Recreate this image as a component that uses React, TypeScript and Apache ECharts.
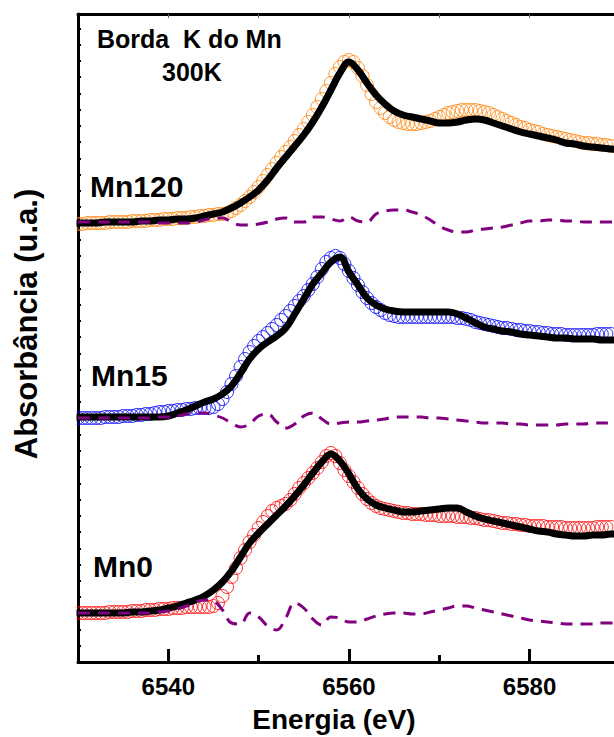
import React, { useEffect, useRef } from "react";
import * as echarts from "echarts";

// Energies (eV) of the measured points (0.5 eV sampling)
const energyData = [
  6530, 6530.5, 6531, 6531.5, 6532, 6532.5, 6533, 6533.5, 6534, 6534.5, 6535, 6535.5, 6536, 6536.5, 6537, 6537.5, 6538, 6538.5, 6539, 6539.5,
  6540, 6540.5, 6541, 6541.5, 6542, 6542.5, 6543, 6543.5, 6544, 6544.5, 6545, 6545.5, 6546, 6546.5, 6547, 6547.5, 6548, 6548.5, 6549, 6549.5,
  6550, 6550.5, 6551, 6551.5, 6552, 6552.5, 6553, 6553.5, 6554, 6554.5, 6555, 6555.5, 6556, 6556.5, 6557, 6557.5, 6558, 6558.5, 6559, 6559.5,
  6560, 6560.5, 6561, 6561.5, 6562, 6562.5, 6563, 6563.5, 6564, 6564.5, 6565, 6565.5, 6566, 6566.5, 6567, 6567.5, 6568, 6568.5, 6569, 6569.5,
  6570, 6570.5, 6571, 6571.5, 6572, 6572.5, 6573, 6573.5, 6574, 6574.5, 6575, 6575.5, 6576, 6576.5, 6577, 6577.5, 6578, 6578.5, 6579, 6579.5,
  6580, 6580.5, 6581, 6581.5, 6582, 6582.5, 6583, 6583.5, 6584, 6584.5, 6585, 6585.5, 6586, 6586.5, 6587, 6587.5, 6588, 6588.5, 6589, 6589.5,
];

// Energies (eV) of the fit / difference curves (1 eV sampling)
const energyFit = [
  6530, 6531, 6532, 6533, 6534, 6535, 6536, 6537, 6538, 6539,
  6540, 6541, 6542, 6543, 6544, 6545, 6546, 6547, 6548, 6549,
  6550, 6551, 6552, 6553, 6554, 6555, 6556, 6557, 6558, 6559,
  6560, 6561, 6562, 6563, 6564, 6565, 6566, 6567, 6568, 6569,
  6570, 6571, 6572, 6573, 6574, 6575, 6576, 6577, 6578, 6579,
  6580, 6581, 6582, 6583, 6584, 6585, 6586, 6587, 6588, 6589,
  6590,
];

// ---- Mn120 (offset absorbance, u.a.) ----
const mn120Data = [
  4.38, 4.38, 4.39, 4.39, 4.39, 4.39, 4.39, 4.40, 4.40, 4.40, 4.40, 4.40, 4.41, 4.41, 4.41, 4.41, 4.42, 4.42, 4.42, 4.43,
  4.43, 4.43, 4.44, 4.44, 4.44, 4.45, 4.45, 4.46, 4.46, 4.47, 4.47, 4.48, 4.48, 4.49, 4.51, 4.54, 4.57, 4.61, 4.65, 4.70,
  4.75, 4.81, 4.87, 4.93, 4.99, 5.05, 5.10, 5.15, 5.21, 5.27, 5.33, 5.40, 5.47, 5.55, 5.63, 5.71, 5.79, 5.88, 5.95, 6.00,
  6.02, 6.00, 5.94, 5.86, 5.77, 5.68, 5.60, 5.54, 5.49, 5.45, 5.42, 5.40, 5.39, 5.38, 5.38, 5.38, 5.39, 5.40, 5.41, 5.43,
  5.45, 5.47, 5.49, 5.50, 5.51, 5.52, 5.52, 5.52, 5.52, 5.51, 5.50, 5.49, 5.47, 5.45, 5.43, 5.41, 5.39, 5.37, 5.35, 5.34,
  5.32, 5.31, 5.30, 5.28, 5.27, 5.26, 5.25, 5.24, 5.23, 5.22, 5.21, 5.20, 5.19, 5.19, 5.18, 5.18, 5.17, 5.17, 5.16, 5.16,
];
const mn120Fit = [
  4.39, 4.39, 4.39, 4.40, 4.40, 4.40, 4.40, 4.41, 4.41, 4.42,
  4.42, 4.43, 4.43, 4.44, 4.46, 4.48, 4.50, 4.54, 4.59, 4.65,
  4.72, 4.82, 4.94, 5.05, 5.16, 5.27, 5.40, 5.55, 5.72, 5.89,
  6.00, 5.92, 5.79, 5.67, 5.58, 5.51, 5.47, 5.45, 5.43, 5.41,
  5.39, 5.39, 5.40, 5.42, 5.43, 5.42, 5.39, 5.36, 5.33, 5.30,
  5.28, 5.26, 5.24, 5.22, 5.19, 5.18, 5.16, 5.15, 5.14, 5.13,
  5.12,
];
const mn120Diff = [
  4.40, 4.40, 4.40, 4.40, 4.40, 4.40, 4.40, 4.40, 4.40, 4.39,
  4.39, 4.39, 4.39, 4.40, 4.42, 4.44, 4.44, 4.40, 4.37, 4.37,
  4.38, 4.40, 4.43, 4.44, 4.40, 4.40, 4.45, 4.45, 4.43, 4.41,
  4.45, 4.41, 4.40, 4.48, 4.51, 4.52, 4.52, 4.50, 4.47, 4.42,
  4.36, 4.32, 4.30, 4.30, 4.32, 4.33, 4.34, 4.35, 4.37, 4.39,
  4.41, 4.41, 4.42, 4.42, 4.41, 4.41, 4.40, 4.40, 4.40, 4.40,
  4.40,
];

// ---- Mn15 ----
const mn15Data = [
  2.44, 2.44, 2.44, 2.44, 2.44, 2.44, 2.45, 2.45, 2.45, 2.45, 2.46, 2.46, 2.46, 2.47, 2.47, 2.48, 2.48, 2.49, 2.50, 2.50,
  2.51, 2.51, 2.52, 2.52, 2.53, 2.53, 2.54, 2.54, 2.54, 2.54, 2.55, 2.58, 2.63, 2.70, 2.78, 2.86, 2.95, 3.03, 3.10, 3.16,
  3.21, 3.25, 3.29, 3.33, 3.37, 3.42, 3.46, 3.51, 3.56, 3.61, 3.66, 3.72, 3.78, 3.85, 3.93, 4.00, 4.04, 4.06, 4.04, 3.98,
  3.91, 3.84, 3.77, 3.70, 3.64, 3.59, 3.55, 3.52, 3.49, 3.47, 3.46, 3.45, 3.45, 3.45, 3.45, 3.45, 3.45, 3.45, 3.45, 3.45,
  3.45, 3.45, 3.45, 3.45, 3.44, 3.44, 3.43, 3.42, 3.40, 3.39, 3.38, 3.37, 3.36, 3.35, 3.34, 3.34, 3.33, 3.32, 3.32, 3.31,
  3.31, 3.30, 3.30, 3.29, 3.29, 3.28, 3.28, 3.28, 3.27, 3.27, 3.27, 3.27, 3.27, 3.27, 3.27, 3.28, 3.28, 3.28, 3.28, 3.29,
];
const mn15Fit = [
  2.45, 2.45, 2.45, 2.45, 2.45, 2.45, 2.45, 2.45, 2.45, 2.45,
  2.46, 2.49, 2.52, 2.56, 2.60, 2.63, 2.68, 2.76, 2.89, 3.03,
  3.13, 3.20, 3.26, 3.34, 3.48, 3.63, 3.78, 3.89, 4.00, 4.05,
  3.90, 3.77, 3.64, 3.57, 3.53, 3.51, 3.50, 3.50, 3.50, 3.50,
  3.50, 3.50, 3.48, 3.44, 3.39, 3.35, 3.33, 3.31, 3.30, 3.28,
  3.27, 3.26, 3.25, 3.24, 3.24, 3.23, 3.23, 3.23, 3.22, 3.22,
  3.22,
];
const mn15Diff = [
  2.44, 2.44, 2.44, 2.44, 2.44, 2.44, 2.44, 2.44, 2.44, 2.45,
  2.45, 2.46, 2.48, 2.49, 2.49, 2.47, 2.44, 2.39, 2.35, 2.38,
  2.46, 2.48, 2.40, 2.34, 2.38, 2.46, 2.49, 2.43, 2.38, 2.39,
  2.40, 2.40, 2.41, 2.42, 2.43, 2.45, 2.45, 2.45, 2.45, 2.44,
  2.44, 2.43, 2.42, 2.41, 2.40, 2.39, 2.39, 2.39, 2.38, 2.38,
  2.37, 2.37, 2.37, 2.37, 2.38, 2.38, 2.38, 2.39, 2.39, 2.39,
  2.39,
];

// ---- Mn0 ----
const mn0Data = [
  0.49, 0.49, 0.49, 0.49, 0.49, 0.49, 0.49, 0.50, 0.50, 0.50, 0.50, 0.50, 0.51, 0.51, 0.51, 0.52, 0.52, 0.52, 0.53, 0.53,
  0.53, 0.54, 0.54, 0.54, 0.55, 0.55, 0.55, 0.55, 0.55, 0.55, 0.56, 0.59, 0.66, 0.75, 0.85, 0.94, 1.04, 1.12, 1.20, 1.27,
  1.34, 1.40, 1.46, 1.51, 1.54, 1.56, 1.58, 1.62, 1.68, 1.74, 1.79, 1.84, 1.89, 1.94, 2.00, 2.06, 2.09, 2.06, 1.99, 1.92,
  1.86, 1.80, 1.74, 1.68, 1.63, 1.59, 1.56, 1.54, 1.53, 1.52, 1.51, 1.50, 1.49, 1.49, 1.48, 1.48, 1.48, 1.47, 1.47, 1.47,
  1.46, 1.46, 1.46, 1.46, 1.45, 1.45, 1.45, 1.44, 1.44, 1.43, 1.42, 1.42, 1.41, 1.40, 1.39, 1.39, 1.38, 1.38, 1.37, 1.37,
  1.36, 1.36, 1.36, 1.36, 1.35, 1.35, 1.35, 1.35, 1.34, 1.34, 1.34, 1.34, 1.34, 1.34, 1.34, 1.35, 1.35, 1.35, 1.35, 1.36,
];
const mn0Fit = [
  0.49, 0.49, 0.49, 0.49, 0.49, 0.49, 0.50, 0.50, 0.51, 0.52,
  0.54, 0.56, 0.59, 0.62, 0.66, 0.72, 0.80, 0.91, 1.05, 1.19,
  1.29, 1.38, 1.47, 1.56, 1.66, 1.77, 1.89, 2.00, 2.08, 2.01,
  1.88, 1.73, 1.63, 1.57, 1.54, 1.52, 1.50, 1.50, 1.51, 1.52,
  1.53, 1.54, 1.54, 1.50, 1.46, 1.43, 1.41, 1.39, 1.37, 1.35,
  1.33, 1.31, 1.30, 1.28, 1.27, 1.26, 1.26, 1.27, 1.27, 1.28,
  1.28,
];
const mn0Diff = [
  0.49, 0.49, 0.49, 0.49, 0.49, 0.49, 0.49, 0.49, 0.49, 0.50,
  0.51, 0.53, 0.56, 0.60, 0.62, 0.61, 0.52, 0.39, 0.38, 0.49,
  0.45, 0.36, 0.32, 0.44, 0.59, 0.54, 0.43, 0.37, 0.45, 0.44,
  0.40, 0.40, 0.43, 0.46, 0.48, 0.49, 0.49, 0.48, 0.48, 0.50,
  0.52, 0.54, 0.56, 0.56, 0.54, 0.52, 0.50, 0.48, 0.46, 0.44,
  0.42, 0.41, 0.40, 0.39, 0.38, 0.38, 0.38, 0.38, 0.39, 0.39,
  0.39,
];

const xTickLabels = [6540, 6560, 6580];
const xMinorTicks = [6550, 6570];
const xTopTicks = [6540, 6550, 6560, 6570, 6580];

const FONT = '"Liberation Sans", Arial, Helvetica, sans-serif';

export default function App() {
  const ref = useRef<HTMLDivElement>(null);

  useEffect(() => {
    if (!ref.current) return;
    const chart = echarts.init(ref.current, null, { renderer: "svg" });
    const zip = (xs: number[], ys: number[]) => xs.map((x, i) => [x, ys[i]]);

    const dataSeries = (name: string, ys: number[], color: string) => ({
      name,
      type: "scatter",
      data: zip(energyData, ys),
      symbol: "circle",
      symbolSize: 13,
      clip: true,
      itemStyle: { color: "rgba(0,0,0,0)", borderColor: color, borderWidth: 1 },
      silent: true,
      z: 2,
    });
    const fitSeries = (name: string, ys: number[]) => ({
      name,
      type: "line",
      data: zip(energyFit, ys),
      showSymbol: false,
      smooth: 0.4,
      clip: true,
      lineStyle: { color: "#000", width: 7, cap: "round", join: "round" },
      silent: true,
      z: 3,
    });
    const diffSeries = (name: string, ys: number[]) => ({
      name,
      type: "line",
      data: zip(energyFit, ys),
      showSymbol: false,
      smooth: 0.4,
      clip: true,
      lineStyle: { color: "#800080", width: 3, type: [12, 8] },
      silent: true,
      z: 4,
    });

    const xMin = 6530;
    const xMax = 6589.35;
    const bigText = (text: string, x: number, y: number, size: number, align = "left") => ({
      type: "text",
      x,
      y,
      silent: true,
      z: 20,
      style: {
        text,
        font: `bold ${size}px ${FONT}`,
        fill: "#000",
        textAlign: align,
        verticalAlign: "middle",
        textVerticalAlign: "middle",
      },
    });

    chart.setOption({
      animation: false,
      backgroundColor: "#fff",
      grid: { left: 78, right: 0, top: 14, bottom: 75, containLabel: false },
      xAxis: [
        {
          type: "value",
          position: "bottom",
          min: xMin,
          max: xMax,
          interval: 10,
          axisLine: { show: true, onZero: false, lineStyle: { color: "#000", width: 3 } },
          axisTick: { show: true, inside: true, length: 13, customValues: xTickLabels, lineStyle: { color: "#000", width: 3 } },
          axisLabel: {
            show: true,
            customValues: xTickLabels,
            formatter: (v: number) => String(Math.round(v)),
            margin: 12,
            color: "#000",
            fontSize: 24,
            fontWeight: "bold",
            fontFamily: FONT,
          },
          splitLine: { show: false },
        },
        {
          type: "value",
          position: "bottom",
          min: xMin,
          max: xMax,
          interval: 10,
          axisLine: { show: false, onZero: false },
          axisTick: { show: true, inside: true, length: 7, customValues: xMinorTicks, lineStyle: { color: "#000", width: 3 } },
          axisLabel: { show: false },
          splitLine: { show: false },
        },
        {
          type: "value",
          position: "top",
          min: xMin,
          max: xMax,
          interval: 10,
          axisLine: { show: true, onZero: false, lineStyle: { color: "#000", width: 3 } },
          axisTick: { show: true, inside: true, length: 4, customValues: xTopTicks, lineStyle: { color: "#666", width: 1 } },
          axisLabel: { show: false },
          splitLine: { show: false },
        },
      ],
      yAxis: {
        type: "value",
        min: 0,
        max: 6.48,
        interval: 0.1625,
        axisLine: { show: true, onZero: false, lineStyle: { color: "#000", width: 3 } },
        axisTick: { show: true, inside: true, length: 3, lineStyle: { color: "#000", width: 2 } },
        axisLabel: { show: false },
        splitLine: { show: false },
      },
      series: [
        dataSeries("Mn120", mn120Data, "#FF8000"),
        dataSeries("Mn15", mn15Data, "#0000FF"),
        dataSeries("Mn0", mn0Data, "#FF0000"),
        fitSeries("Mn120 ajuste", mn120Fit),
        fitSeries("Mn15 ajuste", mn15Fit),
        fitSeries("Mn0 ajuste", mn0Fit),
        diffSeries("Mn120 diferença", mn120Diff),
        diffSeries("Mn15 diferença", mn15Diff),
        diffSeries("Mn0 diferença", mn0Diff),
      ],
      graphic: [
        // mask so that the markers are cut at the left frame, as in the original plot
        {
          type: "rect",
          silent: true,
          z: 10,
          shape: { x: 50, y: 150, width: 26.5, height: 500 },
          style: { fill: "#fff" },
        },
        bigText("Borda  K do Mn", 97, 39, 25),
        bigText("300K", 162, 72, 25),
        bigText("Mn120", 90, 186, 30),
        bigText("Mn15", 91, 375, 30),
        bigText("Mn0", 93, 566, 30),
        bigText("Energia (eV)", 334, 719, 28, "center"),
        {
          type: "text",
          x: 26,
          y: 324,
          rotation: Math.PI / 2,
          silent: true,
          z: 20,
          style: {
            text: "Absorbância (u.a.)",
            font: `bold 31px ${FONT}`,
            fill: "#000",
            textAlign: "center",
            verticalAlign: "middle",
            textVerticalAlign: "middle",
          },
        },
      ],
    });

    return () => chart.dispose();
  }, []);

  return (
    <div
      ref={ref}
      style={{ position: "absolute", left: 0, top: 0, width: 614, height: 737, overflow: "hidden" }}
    />
  );
}
